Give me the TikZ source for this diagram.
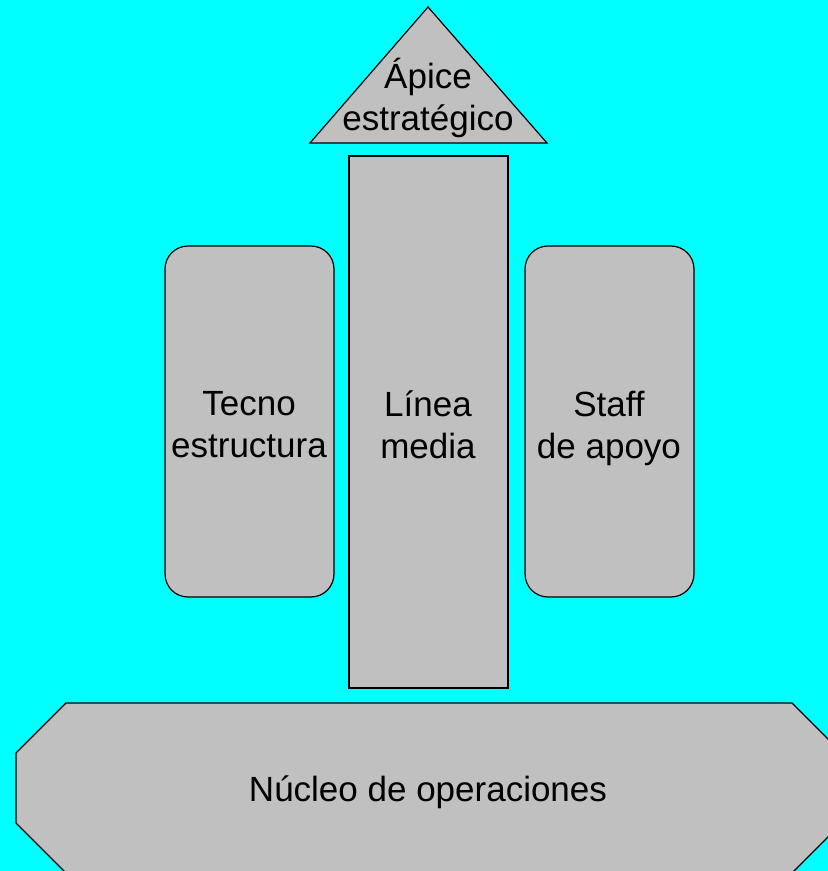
\documentclass[tikz,border=0pt]{standalone}
\usepackage{fontspec}
\setmainfont{Liberation Sans}
\definecolor{bgcyan}{RGB}{0,255,255}
\definecolor{boxgray}{RGB}{192,192,192}
\begin{document}
\begin{tikzpicture}[x=1pt,y=-1pt,
  shapebox/.style={fill=boxgray,draw=black,line width=1.2pt},
  lbl/.style={align=center,font=\fontsize{35}{42}\selectfont,text=black,inner sep=0pt}]
\fill[bgcyan] (0,0) rectangle (828,871);
\useasboundingbox (0,0) rectangle (828,871);
% apex triangle
\draw[shapebox] (428,7) -- (547,143) -- (310,143) -- cycle;
% middle line
\draw[shapebox] (349,156) rectangle (508,688);
% techno structure and support staff
\draw[shapebox,rounded corners=23pt] (165,246) rectangle (334,597);
\draw[shapebox,rounded corners=23pt] (525,246) rectangle (694,597);
% operating core
\draw[shapebox] (66,703) -- (792,703) -- (842,753) -- (842,823) -- (792,873)
  -- (66,873) -- (16,823) -- (16,753) -- cycle;
\node[lbl] (apex) at (428,98) {Ápice\\estratégico};
\node[lbl] (tecno) at (249,425) {Tecno\\estructura};
\node[lbl] (linea) at (428,425) {Línea\\media};
\node[lbl] (staff) at (609,428) {Staff\\de apoyo};
\node[lbl] (nucleo) at (428,792) {Núcleo de operaciones};
\end{tikzpicture}
\end{document}
